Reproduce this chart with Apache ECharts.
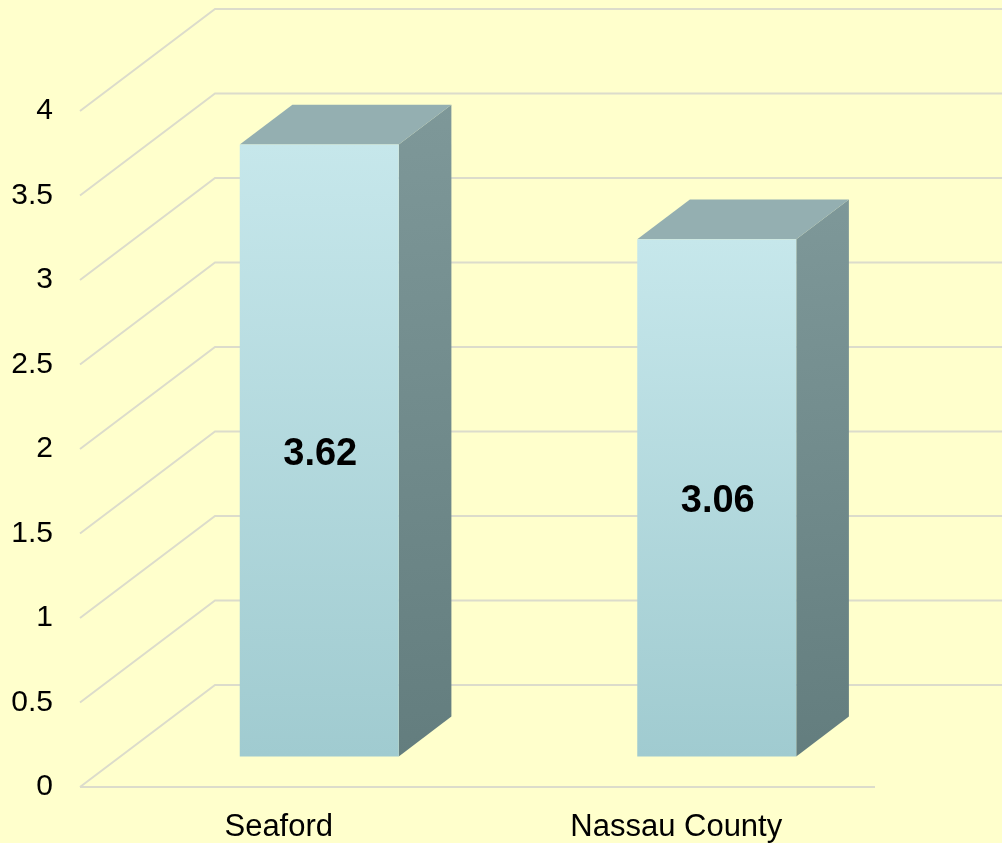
<!DOCTYPE html>
<html>
<head>
<meta charset="utf-8">
<script src="https://cdn.jsdelivr.net/npm/echarts@6/dist/echarts.min.js"></script>
<style>
  html, body { margin: 0; padding: 0; background: #FFFFCC; }
  #chart { width: 1002px; height: 843px; }
</style>
</head>
<body>
<div id="chart"></div>
<script>
var categories = ['Seaford', 'Nassau County'];
var values = [3.62, 3.06];
var yTicks = [0, 0.5, 1, 1.5, 2, 2.5, 3, 3.5, 4];

// depth of the fake 3D box
var DX = 135, DY = 102;
// bar sits between these depth fractions
var F0 = 0.30, F1 = 0.69;

var myChart = echarts.init(document.getElementById('chart'));

function renderGrid(params, api) {
    var cs = params.coordSys;
    var v = api.value(0);
    var y = api.coord([0, v])[1];
    var style = { stroke: '#DCDCCB', lineWidth: 2, fill: null };
    var children = [
        { type: 'polyline', shape: { points: [[cs.x, y], [cs.x + DX, y - DY], [cs.x + cs.width + DX, y - DY]] }, style: style }
    ];
    if (v === 0) {
        children.push({ type: 'line', shape: { x1: cs.x, y1: y, x2: cs.x + cs.width, y2: y }, style: style });
    }
    return { type: 'group', children: children };
}

function renderBar(params, api) {
    var idx = api.value(0);
    var val = api.value(1);
    var base = api.coord([idx, 0]);
    var top = api.coord([idx, val]);
    var band = api.size([1, 0])[0];
    var w = band * 0.4;
    var xl = base[0] - w / 2 + DX * F0;
    var xr = xl + w;
    var yb = base[1] - DY * F0;
    var yt = top[1] - DY * F0;
    var ddx = DX * (F1 - F0), ddy = DY * (F1 - F0);
    return {
        type: 'group',
        children: [
            {
                type: 'polygon',
                shape: { points: [[xr, yt], [xr + ddx, yt - ddy], [xr + ddx, yb - ddy], [xr, yb]] },
                style: { fill: new echarts.graphic.LinearGradient(0, 0, 1, 1, [
                    { offset: 0, color: '#7E9899' }, { offset: 1, color: '#637D7E' }
                ]) }
            },
            {
                type: 'polygon',
                shape: { points: [[xl, yt], [xl + ddx, yt - ddy], [xr + ddx, yt - ddy], [xr, yt]] },
                style: { fill: '#94AFB1' }
            },
            {
                type: 'rect',
                shape: { x: xl, y: yt, width: w, height: yb - yt },
                style: { fill: new echarts.graphic.LinearGradient(0, 0, 0, 1, [
                    { offset: 0, color: '#C6E7EB' }, { offset: 1, color: '#A0CBD0' }
                ]) }
            },
            {
                type: 'text',
                x: (xl + xr) / 2 + 1,
                y: (yt + yb) / 2 + 4,
                style: {
                    text: String(val),
                    fill: '#000',
                    font: 'bold 38px "Liberation Sans", Arial, sans-serif',
                    align: 'center',
                    verticalAlign: 'middle'
                }
            }
        ]
    };
}

var option = {
    backgroundColor: '#FFFFCC',
    animation: false,
    grid: { left: 80, right: 127, top: 111, bottom: 56 },
    xAxis: {
        type: 'category',
        data: categories,
        axisLine: { show: false },
        axisTick: { show: false },
        axisLabel: {
            color: '#000',
            fontSize: 31,
            fontFamily: '"Liberation Sans", Arial, sans-serif',
            margin: 25
        }
    },
    yAxis: {
        type: 'value',
        min: 0,
        max: 4,
        interval: 0.5,
        axisLine: { show: false },
        axisTick: { show: false },
        splitLine: { show: false },
        axisLabel: {
            color: '#000',
            fontSize: 30,
            fontFamily: '"Liberation Sans", Arial, sans-serif',
            margin: 27
        }
    },
    series: [
        {
            type: 'custom',
            renderItem: renderGrid,
            data: yTicks.map(function (t) { return [t]; }),
            encode: { y: 0 },
            silent: true,
            z: 1
        },
        {
            type: 'custom',
            renderItem: renderBar,
            data: values.map(function (v, i) { return [i, v]; }),
            encode: { x: 0, y: 1 },
            z: 2
        }
    ]
};
option && myChart.setOption(option);
</script>
</body>
</html>
